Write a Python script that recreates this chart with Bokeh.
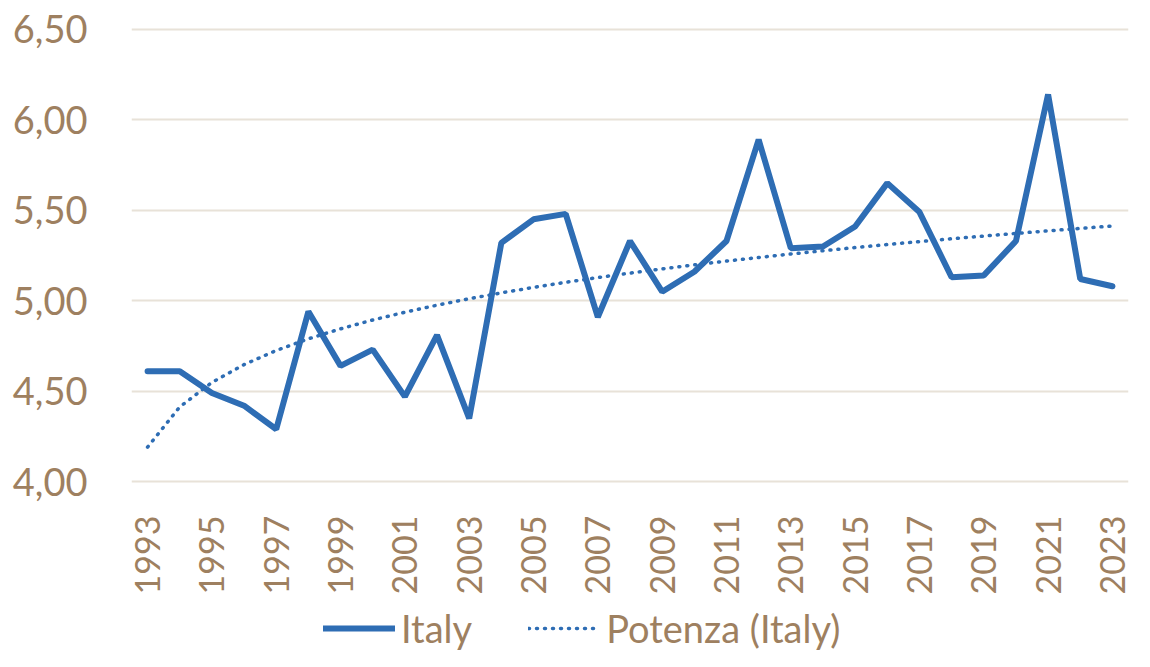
import numpy as np
from bokeh.plotting import figure
from bokeh.layouts import column
from bokeh.models import FixedTicker, Legend, LegendItem, ColumnDataSource
from bokeh.embed import file_html
from bokeh.resources import INLINE

years = list(range(1993, 2024))
italy = [4.61, 4.61, 4.49, 4.42, 4.29, 4.94, 4.64, 4.73, 4.47, 4.81,
         4.35, 5.32, 5.45, 5.48, 4.91, 5.33, 5.05, 5.16, 5.33, 5.89,
         5.29, 5.30, 5.41, 5.65, 5.49, 5.13, 5.14, 5.33, 6.14, 5.12, 5.08]
y_ticks = [4.0, 4.5, 5.0, 5.5, 6.0, 6.5]
y_tick_labels = ["4,00", "4,50", "5,00", "5,50", "6,00", "6,50"]
x_ticks = list(range(1993, 2024, 2))
x_tick_labels = [str(y) for y in x_ticks]
series_names = ["Italy", "Potenza (Italy)"]

# Excel-style power trendline: ln(y) = ln(a) + b*ln(x), x = 1..n
xi = np.arange(1, len(years) + 1)
b, lna = np.polyfit(np.log(xi), np.log(np.array(italy)), 1)
trend = list(np.exp(lna) * xi ** b)

TEXT = "#9E8060"
BLUE = "#2E6DB4"
FONT = "Lato"
W = 1134
LEFT = 131

p = figure(width=W, height=600, output_backend="svg", toolbar_location=None,
           x_range=(1992.5, 2023.5), y_range=(3.99, 6.51),
           min_border_left=LEFT, min_border_right=6, min_border_top=27,
           min_border_bottom=117)
p.outline_line_color = None
p.background_fill_color = "white"

src = ColumnDataSource(dict(year=years, italy=italy, trend=trend))
line_style = dict(line_color=BLUE, line_width=6, line_cap="round")
trend_style = dict(line_color=BLUE, line_width=3.5, line_dash="1 7", line_cap="round")
r1 = p.line("year", "italy", source=src, **line_style)
r2 = p.line("year", "trend", source=src, **trend_style)

p.xgrid.grid_line_color = None
p.ygrid.grid_line_color = "#E8E2D8"
p.ygrid.grid_line_width = 2
p.yaxis.ticker = FixedTicker(ticks=y_ticks)
p.yaxis.major_label_overrides = dict(zip(y_ticks, y_tick_labels))
p.xaxis.ticker = FixedTicker(ticks=x_ticks)
p.xaxis.major_label_overrides = dict(zip(x_ticks, x_tick_labels))
p.xaxis.major_label_orientation = np.pi / 2

for ax in (p.xaxis[0], p.yaxis[0]):
    ax.axis_line_color = None
    ax.major_tick_line_color = None
    ax.minor_tick_line_color = None
    ax.major_label_text_color = TEXT
    ax.major_label_text_font = FONT
p.yaxis.major_label_text_font_size = "38px"
p.yaxis.major_label_standoff = 38
p.xaxis.major_label_text_font_size = "34px"
p.xaxis.major_label_standoff = 26

# legend strip below the chart (its lines use the same data, kept out of view)
p2 = figure(width=W, height=51, output_backend="svg", toolbar_location=None,
            x_range=(0, 1), y_range=(0, 1),
            min_border_left=LEFT, min_border_right=6, min_border_top=0,
            min_border_bottom=0)
p2.axis.visible = False
p2.grid.visible = False
p2.outline_line_color = None
d1 = p2.line("year", "italy", source=src, **line_style)
d2 = p2.line("year", "trend", source=src, **trend_style)

legend = Legend(items=[LegendItem(label=series_names[0], renderers=[d1]),
                       LegendItem(label=series_names[1], renderers=[d2])],
                orientation="horizontal", location=(323 - LEFT, 0),
                label_text_font=FONT, label_text_font_size="38px",
                label_text_color=TEXT, glyph_width=72, glyph_height=30,
                label_standoff=6, spacing=56, padding=0, margin=0,
                border_line_color=None, background_fill_alpha=0)
p2.add_layout(legend, "center")

layout = column(p, p2, spacing=0)
open("out.html", "w").write(file_html(layout, INLINE))
